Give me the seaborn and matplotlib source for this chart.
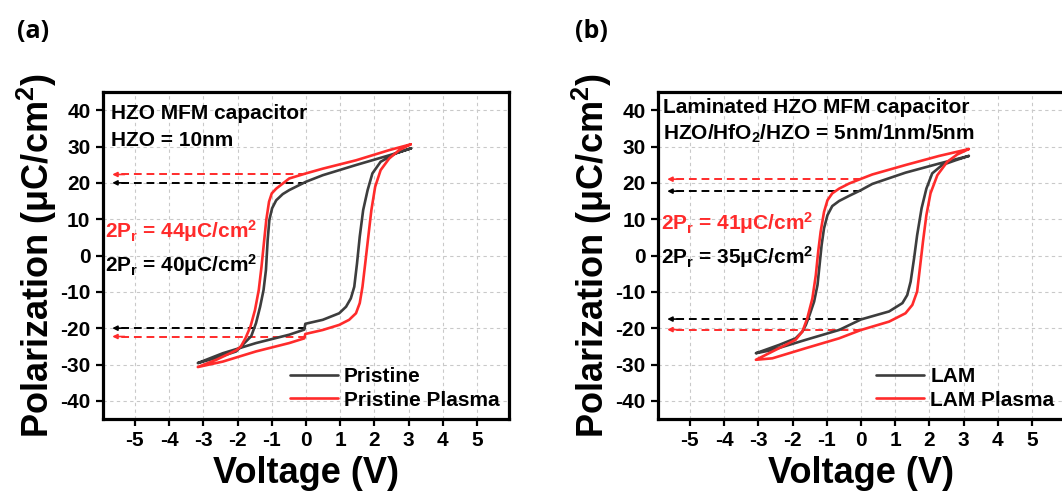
import numpy as np
import pandas as pd
import matplotlib
matplotlib.use("Agg")
import matplotlib.pyplot as plt
import seaborn as sns

# ---------------- data ----------------
# Panel (a): HZO MFM capacitor  (loop: tip -> upper branch -> -3 V -> lower branch -> tip)
V_pristine = [3.07, 2.44, 1.46, 0.49, 0.00, -0.49, -0.68, -0.87, -0.99, -1.07, -1.12, -1.17, -1.24,
              -1.34, -1.46, -1.60, -2.04, -2.62, -3.16,
              -2.43, -1.46, -0.49, -0.05, -0.02, 0.49, 0.97, 1.17, 1.31, 1.41, 1.49, 1.57, 1.67,
              1.80, 1.94, 2.18, 2.62, 3.07]
P_pristine = [29.5, 27.6, 24.9, 22.1, 20.3, 18.0, 16.9, 15.2, 13.0, 9.8, 4.3, -4.0, -9.5,
              -14.1, -18.6, -22.2, -26.4, -28.2, -29.6,
              -26.9, -24.1, -21.8, -20.4, -18.8, -17.7, -15.9, -14.1, -11.8, -8.6, -2.2, 5.2, 12.5,
              18.0, 22.6, 25.8, 28.1, 29.5]
V_pristine_plasma = [3.06, 2.43, 1.46, 0.49, 0.00, -0.49, -0.68, -0.87, -1.00, -1.08, -1.16, -1.22,
                     -1.30, -1.38, -1.49, -1.62, -1.77, -1.90, -2.04, -2.62, -3.16,
                     -2.43, -1.46, -0.49, -0.05, -0.02, 0.49, 0.97, 1.26, 1.46, 1.57, 1.65, 1.73, 1.82,
                     1.91, 2.02, 2.18, 2.43, 2.72, 3.06]
P_pristine_plasma = [30.6, 29.0, 26.2, 23.9, 22.6, 21.2, 19.8, 18.4, 17.1, 14.8, 9.8, 4.3,
                     -3.1, -9.5, -15.0, -19.5, -22.8, -25.0, -26.1, -28.7, -30.7,
                     -29.2, -26.4, -24.1, -22.8, -21.6, -20.5, -19.1, -17.7, -15.9, -13.1, -8.6, -2.2, 5.2,
                     12.5, 18.9, 23.5, 26.7, 29.0, 30.6]

# Panel (b): Laminated HZO MFM capacitor
V_lam = [3.15, 2.28, 1.30, 0.33, 0.00, -0.35, -0.64, -0.84, -0.98, -1.08, -1.15, -1.21, -1.27,
         -1.37, -1.50, -1.61, -1.71, -1.91, -2.39, -3.07,
         -2.59, -1.61, -0.64, 0.00, 0.82, 1.21, 1.35, 1.45, 1.55, 1.64, 1.77, 1.91, 2.08, 2.37,
         2.76, 3.15]
P_lam = [27.4, 25.3, 22.8, 19.7, 18.0, 16.4, 15.0, 13.6, 11.1, 7.5, 2.9, -2.6, -8.1,
         -12.7, -16.3, -19.1, -20.9, -22.8, -24.6, -26.9,
         -26.0, -23.2, -20.5, -17.6, -15.4, -13.1, -10.9, -7.2, -0.8, 5.6, 13.0, 18.4, 22.6, 24.9,
         26.2, 27.4]
V_lam_plasma = [3.15, 2.28, 1.30, 0.33, 0.00, -0.35, -0.64, -0.84, -0.98, -1.08, -1.18, -1.25, -1.32,
                -1.42, -1.57, -1.71, -1.91, -2.39, -3.07,
                -2.59, -1.61, -0.64, 0.00, 0.82, 1.30, 1.50, 1.64, 1.72, 1.81, 1.91, 2.03, 2.23,
                2.52, 2.81, 3.15]
P_lam_plasma = [29.3, 27.4, 24.9, 22.3, 21.1, 19.8, 18.4, 17.1, 15.2, 12.0, 6.5, 1.1, -5.4,
                -11.8, -17.3, -20.9, -23.2, -25.5, -28.7,
                -28.3, -25.5, -22.8, -20.5, -18.2, -15.9, -13.6, -9.9, -3.5, 3.8, 11.1, 17.1, 22.1,
                25.8, 27.8, 29.3]

labels_a = ["Pristine", "Pristine Plasma"]
labels_b = ["LAM", "LAM Plasma"]

# remanent polarization levels (+Pr, -Pr) marked by dashed arrows
pr_a = {"Pristine": (20.0, -20.0), "Pristine Plasma": (22.3, -22.3)}
pr_b = {"LAM": (17.7, -17.5), "LAM Plasma": (21.0, -20.4)}

text_a = ["HZO MFM capacitor", "HZO = 10nm"]
text_b = ["Laminated HZO MFM capacitor", "HZO/HfO$_{2}$/HZO = 5nm/1nm/5nm"]
pr_text_a = ["2P$_{r}$ = 44μC/cm$^{2}$", "2P$_{r}$ = 40μC/cm$^{2}$"]
pr_text_b = ["2P$_{r}$ = 41μC/cm$^{2}$", "2P$_{r}$ = 35μC/cm$^{2}$"]

x_ticks = [-5, -4, -3, -2, -1, 0, 1, 2, 3, 4, 5]
y_ticks = [-40, -30, -20, -10, 0, 10, 20, 30, 40]

# ---------------- style ----------------
GRAY = "#3d3d3d"
RED = "#ff2b2b"

sns.set_style("ticks")
plt.rcParams["font.family"] = ["Liberation Sans", "DejaVu Sans"]
plt.rcParams["font.weight"] = "bold"
plt.rcParams["axes.labelweight"] = "bold"
plt.rcParams["text.color"] = "black"
plt.rcParams["axes.labelcolor"] = "black"
plt.rcParams["xtick.color"] = "black"
plt.rcParams["ytick.color"] = "black"
plt.rcParams["mathtext.fontset"] = "custom"
plt.rcParams["mathtext.rm"] = "Liberation Sans:bold"
plt.rcParams["mathtext.it"] = "Liberation Sans:bold"
plt.rcParams["mathtext.bf"] = "Liberation Sans:bold"
plt.rcParams["mathtext.default"] = "rm"


def make_df(v1, p1, v2, p2, names):
    rows = []
    for name, vv, pp in ((names[0], v1, p1), (names[1], v2, p2)):
        for i, (a, b) in enumerate(zip(vv, pp)):
            rows.append({"V": a, "P": b, "sample": name, "order": i})
    return pd.DataFrame(rows)


fig = plt.figure(figsize=(10.62, 4.92), dpi=100)
W, H = 1062.0, 492.0
ax_a = fig.add_axes([103 / W, 1 - 419 / H, 406 / W, 327 / H])
ax_b = fig.add_axes([658 / W, 1 - 419 / H, 406 / W, 327 / H])


def draw_panel(ax, df, names, prs, texts, pr_texts, text_pos, pr_pos):
    ax.grid(True, ls=(0, (3, 3)), color="#c9c9c9", lw=0.8, zorder=0)
    ax.set_axisbelow(True)
    # dashed arrows for remanent polarization
    for name, col in zip(names, ["black", RED]):
        for lvl in prs[name]:
            ax.plot([0, -5.55], [lvl, lvl], ls=(0, (4, 2.5)), color=col, lw=1.4, zorder=2)
            ax.annotate("", xy=(-5.66, lvl), xytext=(-5.3, lvl),
                        arrowprops=dict(arrowstyle="-|>", color=col, lw=1.2,
                                        mutation_scale=7, shrinkA=0, shrinkB=0), zorder=2)
    sns.lineplot(data=df, x="V", y="P", hue="sample", palette=[GRAY, RED], sort=False,
                 estimator=None, units="sample", lw=1.9, ax=ax, zorder=3)
    ax.set_xlim(-5.93, 5.93)
    ax.set_ylim(-45, 45)
    ax.set_xticks(x_ticks)
    ax.set_yticks(y_ticks)
    ax.set_xticklabels([str(t) for t in x_ticks])
    ax.set_yticklabels([str(t) for t in y_ticks])
    ax.tick_params(axis="both", direction="out", length=5, width=1.6, labelsize=15, pad=4,
                   top=False, right=False, colors="black")
    for lab in ax.get_xticklabels() + ax.get_yticklabels():
        lab.set_fontweight("bold")
    for sp in ax.spines.values():
        sp.set_linewidth(2.3)
        sp.set_color("black")
        sp.set_visible(True)
    ax.set_xlabel("Voltage (V)", fontsize=26, labelpad=4, color="black")
    ax.set_ylabel("Polarization (μC/cm$^{2}$)", fontsize=26, labelpad=1, color="black")
    # annotations
    ax.text(text_pos[0], text_pos[1], texts[0], fontsize=15, fontweight="bold", va="baseline",
            color="black")
    ax.text(text_pos[0], text_pos[2], texts[1], fontsize=15, fontweight="bold", va="baseline",
            color="black")
    ax.text(pr_pos[0], pr_pos[1], pr_texts[0], fontsize=15, fontweight="bold", color=RED,
            va="baseline")
    ax.text(pr_pos[0], pr_pos[2], pr_texts[1], fontsize=15, fontweight="bold", color="black",
            va="baseline")
    sns.move_legend(ax, "lower right", bbox_to_anchor=(1.0, 0.0), title=None, frameon=False,
                    fontsize=15, handlelength=2.3, handletextpad=0.3, labelspacing=0.22,
                    borderaxespad=0.05, borderpad=0.4)
    for t in ax.get_legend().get_texts():
        t.set_fontweight("bold")
        t.set_color("black")
    for h in ax.get_legend().legend_handles:
        h.set_linewidth(1.9)


df_a = make_df(V_pristine, P_pristine, V_pristine_plasma, P_pristine_plasma, labels_a)
df_b = make_df(V_lam, P_lam, V_lam_plasma, P_lam_plasma, labels_b)

draw_panel(ax_a, df_a, labels_a, pr_a, text_a, pr_text_a, (-5.71, 37.6, 30.2), (-5.86, 4.9, -4.4))
draw_panel(ax_b, df_b, labels_b, pr_b, text_b, pr_text_b, (-5.78, 39.1, 31.8), (-5.83, 7.2, -2.4))

fig.text(17 / W, 1 - 31 / H, "(a)", fontsize=18, fontweight="bold", family="Open Sans",
         va="center", ha="left", color="black")
fig.text(575 / W, 1 - 31 / H, "(b)", fontsize=18, fontweight="bold", family="Open Sans",
         va="center", ha="left", color="black")

fig.savefig("out.png", dpi=100)
